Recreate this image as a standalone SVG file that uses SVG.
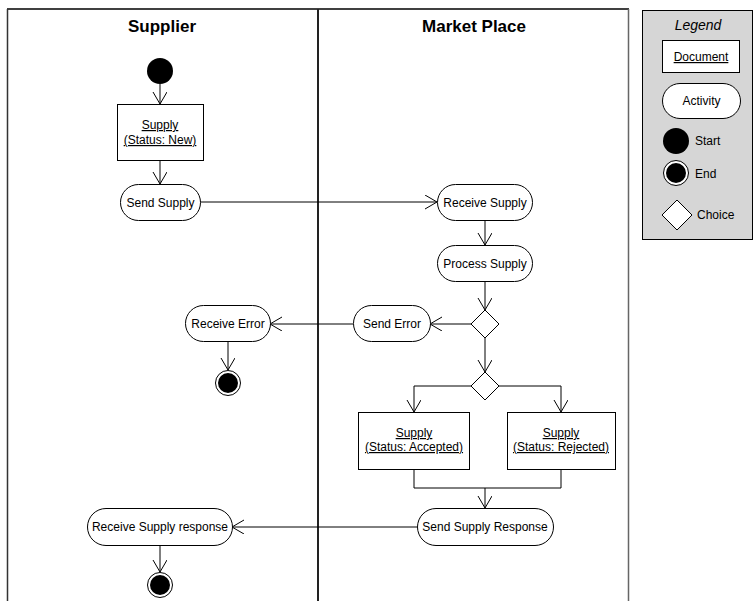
<svg xmlns="http://www.w3.org/2000/svg" width="754" height="601" viewBox="0 0 754 601">
  <defs>
    <marker id="open" markerWidth="16" markerHeight="16" refX="12" refY="7" orient="auto" markerUnits="userSpaceOnUse">
      <path d="M0,0 L12,7 L0,14" fill="none" stroke="#000" stroke-width="1"/>
    </marker>
  </defs>
  <style>
    text { font-family: "Liberation Sans", Arial, sans-serif; font-size: 12px; fill: #000; }
    .title { font-size: 17px; font-weight: bold; text-anchor: middle; }
    .c { text-anchor: middle; }
    .u { text-decoration: underline; }
    .act { fill: #fff; stroke: #000; stroke-width: 1; }
    .doc { fill: #fff; stroke: #000; stroke-width: 1; }
    .start { fill: #000; }
    .dec { fill: #fff; stroke: #000; stroke-width: 1; }
    .flow { fill: none; stroke: #000; stroke-width: 1; }
    .arrow { marker-end: url(#open); }
  </style>
  <rect width="754" height="601" fill="#fff"/>

  <!-- swimlanes -->
  <g id="lanes">
    <line x1="7" y1="9" x2="629" y2="9" stroke="#000" stroke-width="1.5"/>
    <line x1="7.5" y1="9" x2="7.5" y2="601" stroke="#333" stroke-width="1.5"/>
    <line x1="318" y1="9" x2="318" y2="601" stroke="#222" stroke-width="2"/>
    <line x1="628.5" y1="9" x2="628.5" y2="601" stroke="#666" stroke-width="1.5"/>
    <text class="title" x="162" y="32">Supplier</text>
    <text class="title" x="474" y="32">Market Place</text>
  </g>

  <!-- connectors -->
  <g id="connectors">
    <line class="flow arrow" x1="160" y1="84" x2="160" y2="104"/>
    <line class="flow arrow" x1="160" y1="161" x2="160" y2="184"/>
    <line class="flow arrow" x1="200" y1="202" x2="437" y2="202"/>
    <line class="flow arrow" x1="485" y1="221" x2="485" y2="245"/>
    <line class="flow arrow" x1="485" y1="282" x2="485" y2="310"/>
    <line class="flow arrow" x1="471" y1="324" x2="430" y2="324"/>
    <line class="flow arrow" x1="353" y1="324" x2="270" y2="324"/>
    <line class="flow arrow" x1="228" y1="342" x2="228" y2="370"/>
    <line class="flow arrow" x1="485" y1="338" x2="485" y2="372"/>
    <polyline class="flow arrow" points="471,386 414,386 414,412"/>
    <polyline class="flow arrow" points="499,386 561,386 561,412"/>
    <polyline class="flow" points="414,470 414,488 561,488 561,470"/>
    <line class="flow arrow" x1="485" y1="488" x2="485" y2="508"/>
    <line class="flow arrow" x1="417" y1="527" x2="232" y2="527"/>
    <line class="flow arrow" x1="160" y1="546" x2="160" y2="572"/>
  </g>

  <!-- supplier lane -->
  <g id="start">
    <circle class="start" cx="160" cy="71" r="13"/>
  </g>
  <g id="supply-new">
    <rect class="doc" x="117.5" y="104.5" width="86" height="56"/>
    <text class="c u" x="160" y="129">Supply</text>
    <text class="c u" x="160" y="144">(Status: New)</text>
  </g>
  <g id="send-supply">
    <rect class="act" x="120.5" y="184.5" width="80" height="36" rx="18"/>
    <text class="c" x="160.5" y="207">Send Supply</text>
  </g>
  <g id="receive-error">
    <rect class="act" x="185.5" y="305.5" width="85" height="36" rx="18"/>
    <text class="c" x="228" y="328">Receive Error</text>
  </g>
  <g id="end-error">
    <circle cx="228" cy="383" r="12.5" fill="#fff" stroke="#000" stroke-width="1"/>
    <circle class="start" cx="228" cy="383" r="10"/>
  </g>
  <g id="receive-response">
    <rect class="act" x="87.5" y="508.5" width="145" height="37" rx="18.5"/>
    <text class="c" x="160" y="531">Receive Supply response</text>
  </g>
  <g id="end-response">
    <circle cx="160" cy="585" r="12.5" fill="#fff" stroke="#000" stroke-width="1"/>
    <circle class="start" cx="160" cy="585" r="10"/>
  </g>

  <!-- market place lane -->
  <g id="receive-supply">
    <rect class="act" x="437.5" y="184.5" width="95" height="36" rx="18"/>
    <text class="c" x="485" y="207">Receive Supply</text>
  </g>
  <g id="process-supply">
    <rect class="act" x="437.5" y="245.5" width="95" height="36" rx="18"/>
    <text class="c" x="485" y="268">Process Supply</text>
  </g>
  <g id="choice-valid">
    <polygon class="dec" points="485,310 499,324 485,338 471,324"/>
  </g>
  <g id="send-error">
    <rect class="act" x="353.5" y="305.5" width="77" height="36" rx="18"/>
    <text class="c" x="392" y="328">Send Error</text>
  </g>
  <g id="choice-accept">
    <polygon class="dec" points="485,372 499,386 485,400 471,386"/>
  </g>
  <g id="supply-accepted">
    <rect class="doc" x="358.5" y="412.5" width="111" height="57"/>
    <text class="c u" x="414" y="437">Supply</text>
    <text class="c u" x="414" y="451">(Status: Accepted)</text>
  </g>
  <g id="supply-rejected">
    <rect class="doc" x="507.5" y="412.5" width="108" height="57"/>
    <text class="c u" x="561" y="437">Supply</text>
    <text class="c u" x="561" y="451">(Status: Rejected)</text>
  </g>
  <g id="send-response">
    <rect class="act" x="417.5" y="508.5" width="136" height="37" rx="18.5"/>
    <text class="c" x="485" y="531">Send Supply Response</text>
  </g>

  <!-- legend -->
  <g id="legend">
    <rect x="642.5" y="10.5" width="110" height="229" fill="#d6d6d6" stroke="#000" stroke-width="1"/>
    <text class="c" x="698" y="30" font-style="italic" style="font-size:14px">Legend</text>
    <rect class="doc" x="662.5" y="40.5" width="77" height="32"/>
    <text class="c u" x="701" y="61">Document</text>
    <rect class="act" x="662.5" y="83.5" width="78" height="35" rx="17.5"/>
    <text class="c" x="701.5" y="105">Activity</text>
    <circle class="start" cx="676" cy="141" r="13"/>
    <text x="695" y="145">Start</text>
    <circle cx="676" cy="173" r="12.5" fill="#fff" stroke="#000" stroke-width="1"/>
    <circle class="start" cx="676" cy="173" r="10"/>
    <text x="695" y="178">End</text>
    <polygon class="dec" points="677,200 692,215 677,230 662,215"/>
    <text x="697" y="219">Choice</text>
  </g>
</svg>
